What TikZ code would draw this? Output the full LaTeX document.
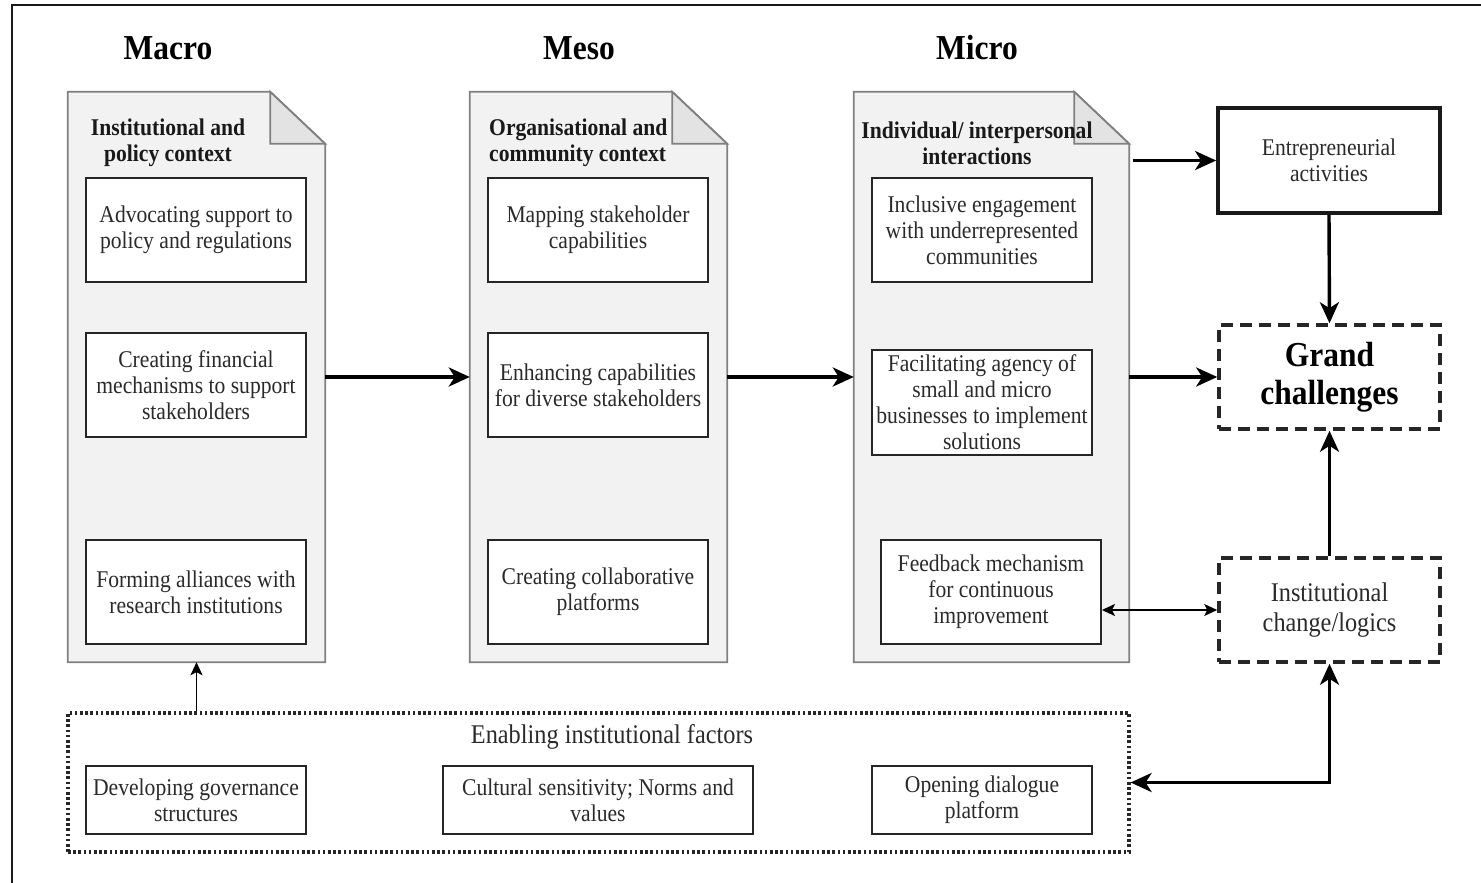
\documentclass[tikz,border=0pt]{standalone}
\usepackage{fontspec}
\setmainfont[FakeStretch=0.9]{Liberation Serif}
\usetikzlibrary{arrows.meta,calc}
\definecolor{docfill}{HTML}{F2F2F2}
\definecolor{foldfill}{HTML}{E3E3E3}
\definecolor{docline}{HTML}{808080}
\definecolor{txt}{HTML}{2A2A2A}
\newcommand{\bodyfont}{\fontsize{24}{26}\selectfont}
\newcommand{\headfont}{\bfseries\fontsize{24}{26}\selectfont}
\begin{document}
\begin{tikzpicture}[x=1pt,y=-1pt,
  doc/.style={draw=none, minimum height=570, inner sep=0},
  levelttl/.style={font=\bfseries\fontsize{35}{38}\selectfont, text=black},
  hdr/.style={font=\headfont, text=black!90, inner sep=0},
  inbox/.style={draw=black!85, fill=white, line width=1.9pt, minimum width=220, minimum height=104, align=center, font=\bodyfont, text=txt, inner sep=0},
  thickarrow/.style={line width=3.4pt, -{Stealth[length=21pt,width=19pt,inset=6pt]}},
  thinarrow/.style={line width=1.7pt, -{Stealth[length=13pt,width=12pt,inset=3pt]}},
  dashbox/.style={draw=black!85, line width=3.6pt, dash pattern=on 12pt off 7pt, minimum width=221, minimum height=104, align=center},
]
\useasboundingbox (0,0) rectangle (1481,883);
\fill[white] (0,0) rectangle (1481,883);
% outer frame (partial)
\draw[line width=2.4pt, black!90] (1481,5) -- (12,5) -- (12,883);

% level titles
\node[levelttl] (tmacro) at (168,48) {Macro};
\node[levelttl] (tmeso) at (579,48) {Meso};
\node[levelttl] (tmicro) at (977,48) {Micro};

% documents
\node[doc, minimum width=257] (macro) at (196.5,377) {};
\node[doc, minimum width=257] (meso) at (598.5,377) {};
\node[doc, minimum width=275] (micro) at (991.5,377) {};
\foreach \d in {macro,meso,micro}{
  \filldraw[fill=docfill, draw=docline, line width=1.8pt, line join=miter]
    (\d.north west) -- ($(\d.north east)+(-55,0)$) -- ($(\d.north east)+(0,52)$)
    -- (\d.south east) -- (\d.south west) -- cycle;
  \filldraw[fill=foldfill, draw=docline, line width=1.8pt]
    ($(\d.north east)+(-55,0)$) -- ($(\d.north east)+(-55,52)$) -- ($(\d.north east)+(0,52)$) -- cycle;
}

% headers
\node[hdr, align=center] (hmacro) at (168,143) {Institutional and\\policy context};
\node[hdr, align=left, anchor=west] (hmeso) at (489,143) {Organisational and\\community context};
\node[hdr, align=center] (hmicro) at (977,143) {Individual/ interpersonal\\interactions};

% macro boxes
\node[inbox] (m1) at (196,230) {Advocating support to\\policy and regulations};
\node[inbox] (m2) at (196,385) {Creating financial\\mechanisms to support\\stakeholders};
\node[inbox] (m3) at (196,592) {Forming alliances with\\research institutions};

% meso boxes
\node[inbox] (s1) at (598,230) {Mapping stakeholder\\capabilities};
\node[inbox] (s2) at (598,385) {Enhancing capabilities\\for diverse stakeholders};
\node[inbox] (s3) at (598,592) {Creating collaborative\\platforms};

% micro boxes
\node[inbox] (i1) at (982,230) {Inclusive engagement\\with underrepresented\\communities};
\node[inbox, minimum height=105] (i2) at (982,402.5) {Facilitating agency of\\small and micro\\businesses to implement\\solutions};
\node[inbox] (i3) at (991,592) {Feedback mechanism\\for continuous\\improvement};

% right column
\node[draw=black!90, line width=3.8pt, minimum width=222, minimum height=105, align=center, font=\bodyfont, text=txt] (ent) at (1329,160.5) {Entrepreneurial\\activities};
\node[dashbox, font=\bfseries\fontsize{35}{38}\selectfont, text=black] (gc) at (1329.5,377) {Grand\\challenges};
\node[dashbox, font=\fontsize{27}{30}\selectfont, text=txt] (ic) at (1329.5,610) {Institutional\\change/logics};

% enabling factors
\node[draw=black!85, line width=3.2pt, dash pattern=on 2.6pt off 2.6pt, minimum width=1061, minimum height=139, inner sep=0] (enab) at (598.5,782.5) {};
\node[font=\fontsize{27}{30}\selectfont, text=txt] (etitle) at (612,737) {Enabling institutional factors};
\node[inbox, minimum height=68] (e1) at (196,800) {Developing governance\\structures};
\node[inbox, minimum width=310, minimum height=68] (e2) at (598,800) {Cultural sensitivity; Norms and\\values};
\node[inbox, minimum height=68] (e3) at (982,800) {Opening dialogue\\platform};

% connectors
\draw[thickarrow] (macro.east) -- (meso.west);
\draw[thickarrow] (meso.east) -- (micro.west);
\draw[thickarrow] ([xshift=4pt]micro.east |- ent.west) -- (ent.west);
\draw[thickarrow] (micro.east) -- (gc.west);
\draw[thickarrow] (ent.south) -- (gc.north);
\draw[thickarrow] (ic.north) -- (gc.south);
\draw[thinarrow, {Stealth[length=13pt,width=12pt,inset=3pt]}-{Stealth[length=13pt,width=12pt,inset=3pt]}] (i3.east |- ic.west) -- (ic.west);
\draw[thinarrow] (macro.south |- enab.north) -- (macro.south);
\draw[line width=3.4pt, {Stealth[length=21pt,width=19pt,inset=6pt]}-{Stealth[length=21pt,width=19pt,inset=6pt]}] (enab.east) -| (ic.south);
\end{tikzpicture}
\end{document}
